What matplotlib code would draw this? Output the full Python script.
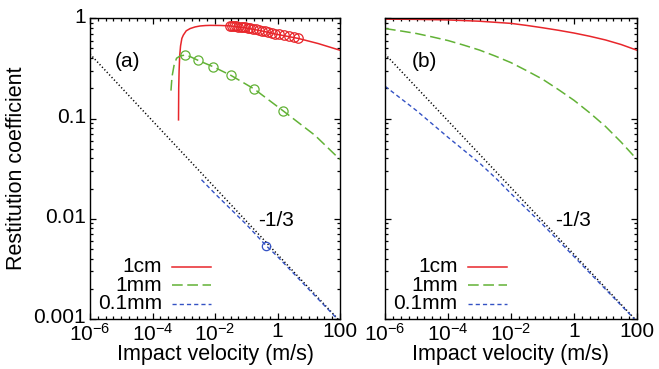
import matplotlib
matplotlib.use("Agg")
import matplotlib.pyplot as plt
from matplotlib.ticker import FixedLocator, NullFormatter
from matplotlib.transforms import ScaledTranslation

plt.rcParams["font.family"] = ["Liberation Sans", "DejaVu Sans"]
plt.rcParams["mathtext.fontset"] = "custom"
plt.rcParams["mathtext.rm"] = "Liberation Sans"
plt.rcParams["mathtext.it"] = "Liberation Sans:italic"
plt.rcParams["mathtext.bf"] = "Liberation Sans:bold"

# ---- data -------------------------------------------------------------
# reference power law, slope -1/3
slope_v = [1e-6, 100]
slope_e = [0.44, 0.00095]

# panel (a)
a_cm_v = [6.8e-4, 6.9e-4, 7.1e-4, 7.4e-4, 7.9e-4, 8.7e-4, 9.7e-4, 1.2e-3, 1.6e-3,
          2.3e-3, 3.3e-3, 5e-3, 7e-3, 0.015, 0.03, 0.1, 0.3, 1, 4.6, 20, 100]
a_cm_e = [0.097, 0.2, 0.3, 0.42, 0.53, 0.63, 0.68, 0.75, 0.79,
          0.82, 0.838, 0.847, 0.85, 0.848, 0.84, 0.80, 0.75, 0.69, 0.63, 0.56, 0.48]
a_cm_pts_v = [0.030, 0.035, 0.041, 0.048, 0.056, 0.066, 0.078, 0.093, 0.11, 0.13,
              0.16, 0.20, 0.25, 0.31, 0.39, 0.50, 0.65, 0.85, 1.15, 1.6, 2.3, 3.3, 4.6]
a_cm_pts_e = [0.84, 0.837, 0.833, 0.829, 0.825, 0.82, 0.816, 0.81, 0.805, 0.80,
              0.79, 0.78, 0.77, 0.755, 0.745, 0.735, 0.72, 0.705, 0.69, 0.675, 0.66, 0.645, 0.63]

a_mm_v = [3.9e-4, 4.2e-4, 4.9e-4, 5.9e-4, 7.6e-4, 1.1e-3, 1.6e-3, 2.9e-3, 8.5e-3,
          0.032, 0.18, 1.48, 15.8, 100]
a_mm_e = [0.19, 0.26, 0.34, 0.40, 0.42, 0.43, 0.415, 0.38, 0.33,
          0.27, 0.197, 0.12, 0.068, 0.039]
a_mm_pts_v = [1.1e-3, 2.9e-3, 8.5e-3, 0.032, 0.18, 1.48]
a_mm_pts_e = [0.43, 0.38, 0.33, 0.27, 0.197, 0.12]

a_01mm_v = [3.7e-3, 0.01, 0.1, 0.43, 1, 10, 100]
a_01mm_e = [0.0245, 0.0178, 0.0088, 0.0054, 0.0042, 0.00198, 0.00094]
a_01mm_pts_v = [0.43]
a_01mm_pts_e = [0.0054]

# panel (b)
b_cm_v = [1e-6, 1e-5, 1e-4, 1e-3, 1e-2, 0.0316, 0.1, 0.316, 1, 3.16, 10, 31.6, 100]
b_cm_e = [0.981, 0.976, 0.963, 0.935, 0.89, 0.849, 0.805, 0.760, 0.713, 0.662,
          0.608, 0.547, 0.48]

b_mm_v = [1e-6, 3.16e-6, 1e-5, 3.16e-5, 1e-4, 3.16e-4, 1e-3, 3.16e-3, 1e-2, 0.0316,
          0.1, 0.316, 1, 3.16, 10, 31.6, 100]
b_mm_e = [0.79, 0.748, 0.705, 0.652, 0.60, 0.54, 0.482, 0.42, 0.361, 0.30,
          0.247, 0.195, 0.152, 0.114, 0.0834, 0.058, 0.039]

b_01mm_v = [1e-6, 1e-5, 1e-4, 1e-3, 3.7e-3, 1e-2, 0.1, 1, 10, 100]
b_01mm_e = [0.21, 0.12, 0.065, 0.036, 0.0245, 0.0178, 0.0088, 0.0042, 0.00198, 0.00094]

sizes = ["1cm", "1mm", "0.1mm"]
x_ticks = [1e-6, 1e-4, 1e-2, 1, 100]
x_ticklabels = [r"$\mathregular{10^{-6}}$", r"$\mathregular{10^{-4}}$",
                r"$\mathregular{10^{-2}}$", "1", "100"]
y_ticks = [0.001, 0.01, 0.1, 1]
y_ticklabels = ["0.001", "0.01", "0.1", "1"]

# ---- styles -----------------------------------------------------------
RED, GREEN, BLUE = "#e8262b", "#62b236", "#3452c4"
styles = {
    "1cm": dict(color=RED, lw=1.1, ls="-"),
    "1mm": dict(color=GREEN, lw=1.1, ls=(0, (7, 3))),
    "0.1mm": dict(color=BLUE, lw=1.0, ls=(0, (3, 2.2))),
}
slope_style = dict(color="black", lw=1.1, ls=(0, (0.8, 1.5)))
FS = 15
FS_LABEL = 15.5

fig = plt.figure(figsize=(6.59, 3.69), dpi=100)
W, H = 659, 369
ax_a = fig.add_axes([90 / W, 1 - 319 / H, 250 / W, 300.7 / H])
ax_b = fig.add_axes([385 / W, 1 - 319 / H, 252 / W, 300.7 / H])

minor_x = [10 ** (k / 4) for k in range(-24, 9) if k % 8 != 0]


def setup(ax, show_ylabels):
    ax.set_xscale("log")
    ax.set_yscale("log")
    ax.set_xlim(1e-6, 100)
    ax.set_ylim(0.001, 1)
    ax.xaxis.set_major_locator(FixedLocator(x_ticks))
    ax.set_xticklabels(x_ticklabels)
    ax.xaxis.set_minor_locator(FixedLocator(minor_x))
    ax.xaxis.set_minor_formatter(NullFormatter())
    ax.yaxis.set_major_locator(FixedLocator(y_ticks))
    ax.yaxis.set_minor_locator(FixedLocator(
        [m * 10.0 ** d for d in (-3, -2, -1) for m in range(2, 10)]))
    ax.yaxis.set_minor_formatter(NullFormatter())
    if show_ylabels:
        ax.set_yticklabels(y_ticklabels)
    else:
        ax.set_yticklabels([])
    ax.tick_params(which="both", direction="in", top=True, right=True,
                   width=0.9, labelsize=FS)
    ax.tick_params(which="major", length=4.5)
    ax.tick_params(which="minor", length=2.5)
    ax.tick_params(axis="x", which="major", pad=2.5)
    ax.tick_params(axis="y", which="major", pad=3)
    # lift the y tick labels slightly above their ticks
    lift = ScaledTranslation(0, 3 / 100, fig.dpi_scale_trans)
    for lab in ax.get_yticklabels():
        lab.set_transform(lab.get_transform() + lift)
    for s in ax.spines.values():
        s.set_linewidth(1.0)


def legend(ax):
    ys = [0.173, 0.113, 0.050]
    for name, y in zip(sizes, ys):
        ax.text(0.288, y, name, transform=ax.transAxes, ha="right",
                va="center", fontsize=FS)
        ax.plot([0.328, 0.484], [y, y], transform=ax.transAxes, **styles[name])


mk = dict(marker="o", ls="none", mfc="none", mew=0.9)

# panel (a)
setup(ax_a, True)
ax_a.plot(slope_v, slope_e, **slope_style)
ax_a.plot(a_cm_v, a_cm_e, **styles["1cm"])
ax_a.plot(a_cm_pts_v, a_cm_pts_e, ms=6.8, mec=RED, **mk)
ax_a.plot(a_mm_v, a_mm_e, **styles["1mm"])
ax_a.plot(a_mm_pts_v, a_mm_pts_e, ms=6.6, mec=GREEN, **mk)
ax_a.plot(a_01mm_v, a_01mm_e, **styles["0.1mm"])
ax_a.plot(a_01mm_pts_v, a_01mm_pts_e, ms=6.0, mec=BLUE, **mk)
ax_a.text(0.15, 0.855, "(a)", transform=ax_a.transAxes, ha="center",
          va="center", fontsize=FS)
ax_a.text(0.744, 0.329, "-1/3", transform=ax_a.transAxes, ha="center",
          va="center", fontsize=FS)
legend(ax_a)

# panel (b)
setup(ax_b, False)
ax_b.plot(slope_v, slope_e, **slope_style)
ax_b.plot(b_cm_v, b_cm_e, **styles["1cm"])
ax_b.plot(b_mm_v, b_mm_e, **styles["1mm"])
ax_b.plot(b_01mm_v, b_01mm_e, **styles["0.1mm"])
ax_b.text(0.157, 0.855, "(b)", transform=ax_b.transAxes, ha="center",
          va="center", fontsize=FS)
ax_b.text(0.748, 0.329, "-1/3", transform=ax_b.transAxes, ha="center",
          va="center", fontsize=FS)
legend(ax_b)

fig.text(17 / W, 1 - 168.7 / H, "Restitution coefficient", rotation=90,
         ha="center", va="center", fontsize=FS_LABEL)
for cx in (215, 511):
    fig.text(cx / W, 1 - 360 / H, "Impact velocity (m/s)", ha="center",
             va="baseline", fontsize=FS_LABEL)

fig.savefig("out.png", dpi=100)
